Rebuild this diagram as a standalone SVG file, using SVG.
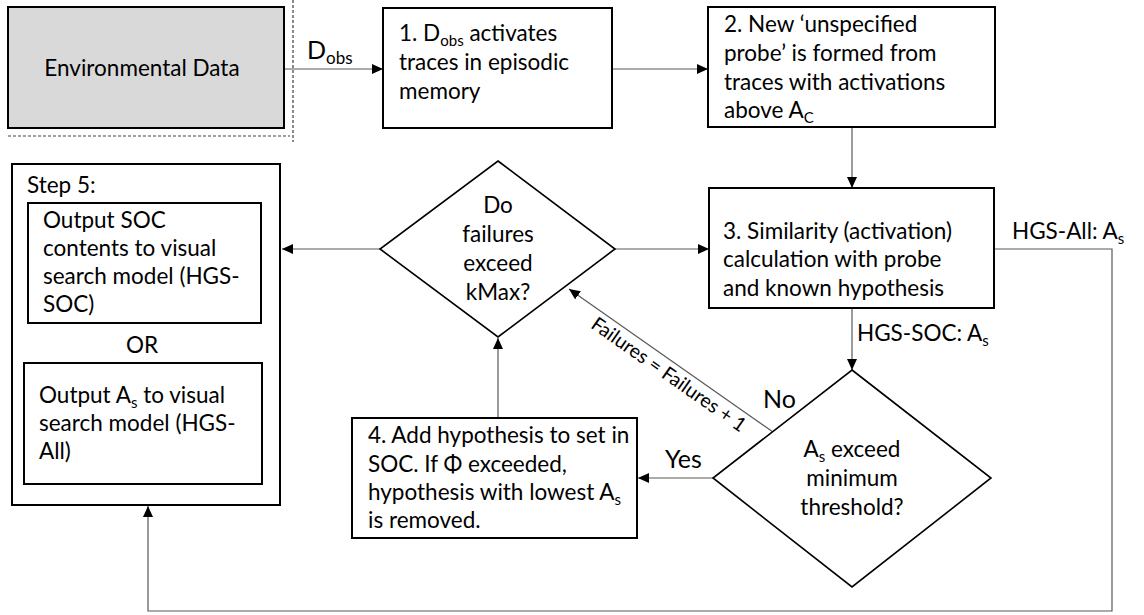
<svg xmlns="http://www.w3.org/2000/svg" width="1144" height="615" viewBox="0 0 1144 615">
  <style>
    .box { fill: #ffffff; stroke: #000000; stroke-width: 2; }
    .env { fill: #d9d9d9; stroke: #000000; stroke-width: 2; }
    .dia { fill: #ffffff; stroke: #000000; stroke-width: 1.6; }
    .line { fill: none; stroke: #595959; stroke-width: 1.2; }
    .dash { fill: none; stroke: #404040; stroke-width: 1.2; stroke-dasharray: 3 2; }
    text { font-family: "Lato", "Liberation Sans", sans-serif; font-size: 22.5px; fill: #000000; }
    .mid { text-anchor: middle; }
    .big { font-size: 25px; }
    .small { font-size: 19.5px; }
  </style>
  <defs>
    <marker id="arrow" markerUnits="userSpaceOnUse" markerWidth="11" markerHeight="10" refX="11" refY="5" orient="auto">
      <path d="M0,0 L11,5 L0,10 z" fill="#000000"/>
    </marker>
  </defs>

  <!-- connectors -->
  <g id="connectors">
    <line class="dash" x1="293" y1="0" x2="293" y2="142"/>
    <line class="dash" x1="8" y1="136" x2="290" y2="136"/>
    <line class="line" x1="285" y1="69" x2="383" y2="69" marker-end="url(#arrow)"/>
    <line class="line" x1="612" y1="69" x2="708" y2="69" marker-end="url(#arrow)"/>
    <line class="line" x1="852" y1="128" x2="852" y2="188" marker-end="url(#arrow)"/>
    <line class="line" x1="852" y1="309" x2="852" y2="370" marker-end="url(#arrow)"/>
    <line class="line" x1="615" y1="249" x2="709" y2="249" marker-end="url(#arrow)"/>
    <line class="line" x1="380" y1="249" x2="282" y2="249" marker-end="url(#arrow)"/>
    <line class="line" x1="713" y1="478" x2="638" y2="478" marker-end="url(#arrow)"/>
    <line class="line" x1="498" y1="418" x2="498" y2="338" marker-end="url(#arrow)"/>
    <line class="line" x1="773" y1="432" x2="569" y2="289" marker-end="url(#arrow)"/>
    <polyline class="line" points="995,249 1112,249 1112,611 148,611 148,506" marker-end="url(#arrow)"/>
    <text x="307" y="59" class="big">D<tspan dy="5" font-size="17">obs</tspan></text>
    <text x="665" y="380" class="small mid" transform="rotate(35 665 380)">Failures = Failures + 1</text>
    <text x="763" y="408" class="big">No</text>
    <text x="665" y="468" class="big">Yes</text>
    <text x="857" y="341">HGS-SOC: A<tspan dy="5" font-size="15">s</tspan></text>
    <text x="1012" y="239">HGS-All: A<tspan dy="5" font-size="15">s</tspan></text>
  </g>

  <g id="environmental-data">
    <rect class="env" x="8" y="7" width="276" height="121"/>
    <text x="142" y="76" class="mid">Environmental Data</text>
  </g>

  <g id="step1">
    <rect class="box" x="383" y="8" width="229" height="120"/>
    <text x="399" y="41">1. D<tspan dy="5" font-size="15">obs</tspan><tspan dy="-5"> activates</tspan></text>
    <text x="399" y="70">traces in episodic</text>
    <text x="399" y="99">memory</text>
  </g>

  <g id="step2">
    <rect class="box" x="708" y="7" width="287" height="120"/>
    <text x="724" y="32">2. New ‘unspecified</text>
    <text x="724" y="61">probe’ is formed from</text>
    <text x="724" y="90">traces with activations</text>
    <text x="724" y="118">above A<tspan dy="5" font-size="15">C</tspan></text>
  </g>

  <g id="step3">
    <rect class="box" x="709" y="188" width="285" height="120"/>
    <text x="723" y="239">3. Similarity (activation)</text>
    <text x="723" y="267">calculation with probe</text>
    <text x="723" y="296">and known hypothesis</text>
  </g>

  <g id="threshold-decision">
    <polygon class="dia" points="852,370 991,478 852,587 713,478"/>
    <text x="852" y="457" class="mid">A<tspan dy="5" font-size="15">s</tspan><tspan dy="-5"> exceed</tspan></text>
    <text x="852" y="486" class="mid">minimum</text>
    <text x="852" y="515" class="mid">threshold?</text>
  </g>

  <g id="step4">
    <rect class="box" x="352" y="418" width="285" height="120"/>
    <text x="368" y="443">4. Add hypothesis to set in</text>
    <text x="368" y="472">SOC. If Φ exceeded,</text>
    <text x="368" y="500">hypothesis with lowest A<tspan dy="5" font-size="15">s</tspan></text>
    <text x="368" y="528">is removed.</text>
  </g>

  <g id="failures-decision">
    <polygon class="dia" points="498,161 615,249 498,337 380,249"/>
    <text x="498" y="213" class="mid">Do</text>
    <text x="498" y="242" class="mid">failures</text>
    <text x="498" y="271" class="mid">exceed</text>
    <text x="498" y="300" class="mid">kMax?</text>
  </g>

  <g id="step5">
    <rect class="box" x="12" y="164" width="268" height="341"/>
    <text x="27" y="193">Step 5:</text>
    <rect class="box" x="28" y="203" width="233" height="120"/>
    <text x="43" y="228">Output SOC</text>
    <text x="43" y="256">contents to visual</text>
    <text x="43" y="284">search model (HGS-</text>
    <text x="43" y="312">SOC)</text>
    <text x="142" y="353" class="mid">OR</text>
    <rect class="box" x="24" y="363" width="238" height="121"/>
    <text x="39" y="403">Output A<tspan dy="5" font-size="15">s</tspan><tspan dy="-5"> to visual</tspan></text>
    <text x="39" y="431">search model (HGS-</text>
    <text x="39" y="459">All)</text>
  </g>
</svg>
